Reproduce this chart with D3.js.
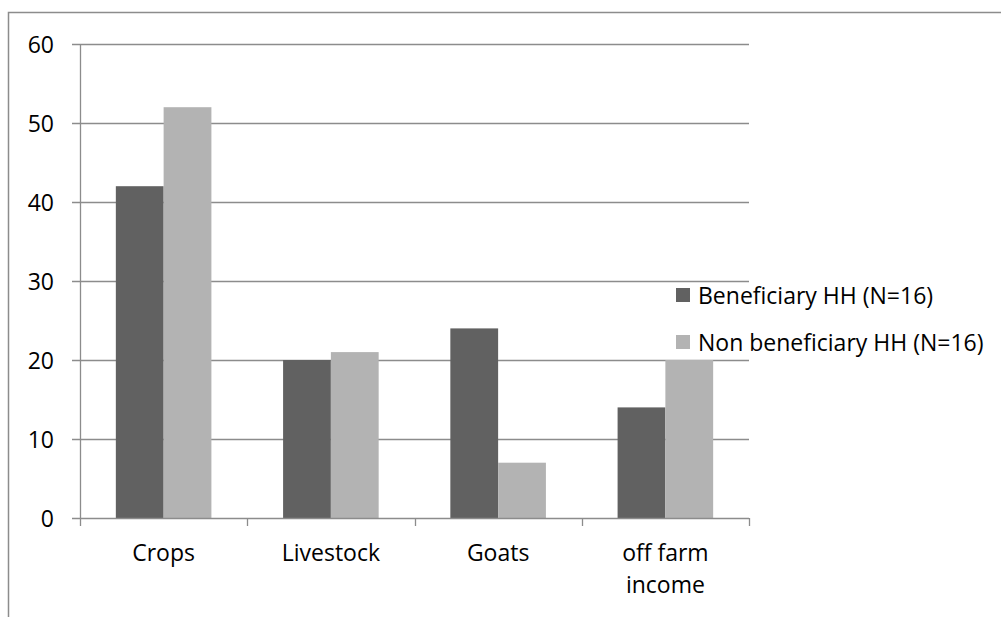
<!DOCTYPE html>
<html>
<head>
<meta charset="utf-8">
<script src="https://cdn.jsdelivr.net/npm/d3@7"></script>
<style>
  html, body { margin: 0; padding: 0; background: #fff; }
  svg { display: block; }
  text { font-family: "Open Sans", Lato, sans-serif; fill: #000; }
</style>
</head>
<body>
<script>
// Income sources by household group
const categories = ["Crops", "Livestock", "Goats", "off farm income"];
const seriesNames = ["Beneficiary HH (N=16)", "Non beneficiary HH (N=16)"];
const beneficiary = [42, 20, 24, 14];
const nonBeneficiary = [52, 21, 7, 20];
const yTicks = [0, 10, 20, 30, 40, 50, 60];

const seriesValues = [beneficiary, nonBeneficiary];
const colors = ["#616161", "#b3b3b3"];
const gridColor = "#8c8c8c";

const W = 1001, H = 617;
const plot = { left: 80, right: 749, top: 44, bottom: 518 };
const fontSize = 23;

const svg = d3.select("body").append("svg")
  .attr("width", W).attr("height", H);

// chart frame (only top and left edges fall inside the view)
svg.append("path")
  .attr("d", `M8.5,${H} V12.5 H${W}`)
  .attr("fill", "none").attr("stroke", gridColor).attr("stroke-width", 1.5);

const x = d3.scaleBand().domain(categories).range([plot.left, plot.right]).paddingInner(0).paddingOuter(0);
const y = d3.scaleLinear().domain([0, 60]).range([plot.bottom, plot.top]);

// horizontal gridlines with left tick stubs
svg.append("g").selectAll("line").data(yTicks.filter(d => d > 0)).join("line")
  .attr("x1", plot.left - 8).attr("x2", plot.right)
  .attr("y1", d => Math.round(y(d)) + 0.5).attr("y2", d => Math.round(y(d)) + 0.5)
  .attr("stroke", gridColor).attr("stroke-width", 1.3);

// y tick labels
svg.append("g").selectAll("text").data(yTicks).join("text")
  .attr("x", 54).attr("y", d => y(d))
  .attr("text-anchor", "end").attr("dominant-baseline", "central")
  .attr("font-size", fontSize)
  .text(d => d);

// bars: gap between groups is 150% of a bar width
const barW = x.bandwidth() / (2 + 1.5);
const inner = d3.scaleBand().domain([0, 1]).range([0, barW * 2]);
const groups = svg.append("g").selectAll("g").data(categories).join("g")
  .attr("transform", c => `translate(${x(c) + barW * 0.75},0)`);
groups.selectAll("rect")
  .data((c, i) => seriesValues.map((s, k) => ({ k, v: s[i] })))
  .join("rect")
  .attr("x", d => inner(d.k))
  .attr("width", inner.bandwidth())
  .attr("y", d => y(d.v))
  .attr("height", d => y(0) - y(d.v))
  .attr("fill", d => colors[d.k]);

// y axis and zero line
svg.append("line")
  .attr("x1", plot.left + 0.5).attr("x2", plot.left + 0.5)
  .attr("y1", plot.top).attr("y2", plot.bottom)
  .attr("stroke", gridColor).attr("stroke-width", 1.3);
svg.append("line")
  .attr("x1", plot.left - 8).attr("x2", plot.right)
  .attr("y1", plot.bottom + 0.5).attr("y2", plot.bottom + 0.5)
  .attr("stroke", gridColor).attr("stroke-width", 1.3);

// category boundary ticks
const bounds = categories.map(c => x(c)).concat([plot.right]);
svg.append("g").selectAll("line").data(bounds).join("line")
  .attr("x1", d => Math.round(d) + 0.5).attr("x2", d => Math.round(d) + 0.5)
  .attr("y1", plot.bottom).attr("y2", plot.bottom + 8)
  .attr("stroke", gridColor).attr("stroke-width", 1.3);

// category labels, wrapped to two lines where needed
const labelLines = { "off farm income": ["off farm", "income"] };
svg.append("g").selectAll("text").data(categories).join("text")
  .attr("x", c => x(c) + x.bandwidth() / 2)
  .attr("y", 561)
  .attr("text-anchor", "middle")
  .attr("font-size", fontSize)
  .each(function (c) {
    const lines = labelLines[c] || [c];
    d3.select(this).selectAll("tspan").data(lines).join("tspan")
      .attr("x", x(c) + x.bandwidth() / 2)
      .attr("dy", (l, i) => i === 0 ? 0 : 32)
      .text(l => l);
  });

// legend
const legend = svg.append("g").selectAll("g").data(seriesNames).join("g")
  .attr("transform", (d, i) => `translate(676,${295 + i * 47})`);
legend.append("rect")
  .attr("x", 0).attr("y", -7).attr("width", 14).attr("height", 14)
  .attr("fill", (d, i) => colors[i]);
legend.append("text")
  .attr("x", 22).attr("y", 0)
  .attr("dominant-baseline", "central")
  .attr("font-size", fontSize)
  .text(d => d);
</script>
</body>
</html>
